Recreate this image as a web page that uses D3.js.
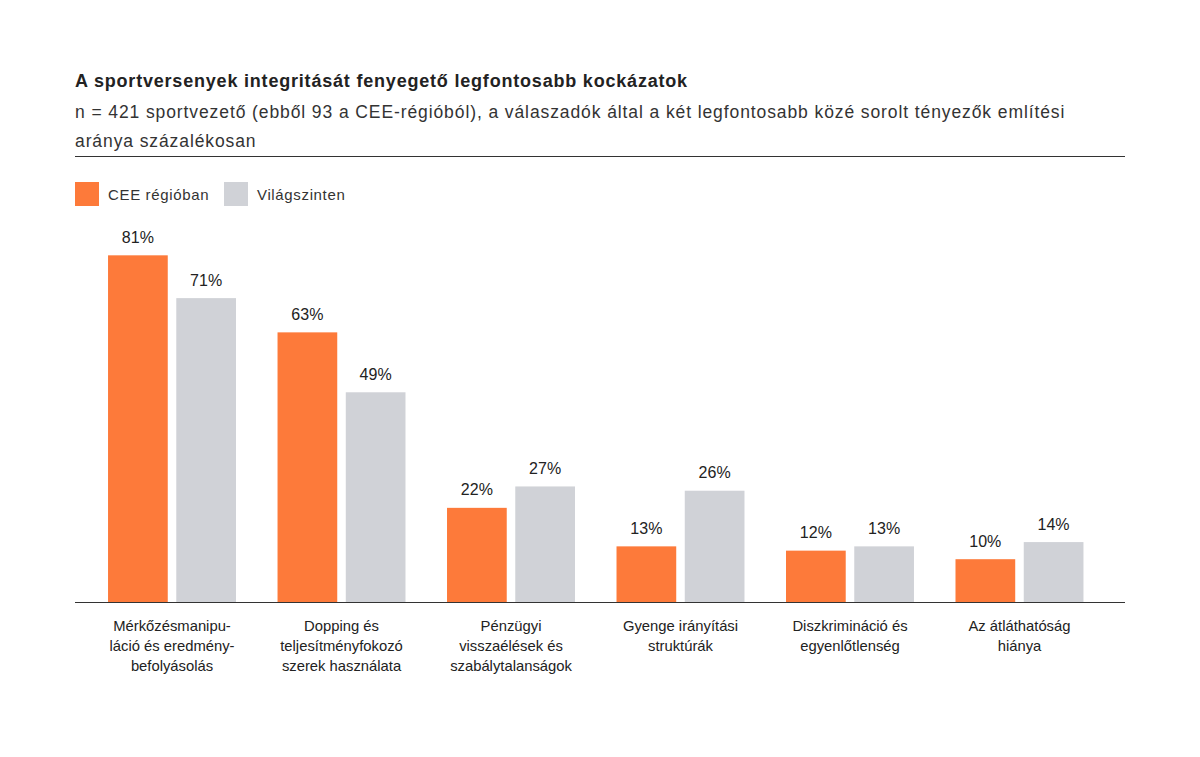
<!DOCTYPE html>
<html>
<head>
<meta charset="utf-8">
<script src="https://cdn.jsdelivr.net/npm/d3@7"></script>
<style>
  body { margin: 0; background: #fff; }
  svg { font-family: "Liberation Sans", Arial, sans-serif; }
</style>
</head>
<body>
<script>
const w = 1200;
const h = 757;

const categories = [
  ['Mérkőzésmanipu-', 'láció és eredmény-', 'befolyásolás'],
  ['Dopping és', 'teljesítményfokozó', 'szerek használata'],
  ['Pénzügyi', 'visszaélések és', 'szabálytalanságok'],
  ['Gyenge irányítási', 'struktúrák'],
  ['Diszkrimináció és', 'egyenlőtlenség'],
  ['Az átláthatóság', 'hiánya']
];
const cee = [81, 63, 22, 13, 12, 10];
const world = [71, 49, 27, 26, 13, 14];
const seriesNames = ['CEE régióban', 'Világszinten'];
const colors = ['#fd7a3a', '#d0d2d7'];

const title = 'A sportversenyek integritását fenyegető legfontosabb kockázatok';
const subtitle = ['n = 421 sportvezető (ebből 93 a CEE-régióból), a válaszadók által a két legfontosabb közé sorolt tényezők említési',
  'aránya százalékosan'];

document.addEventListener('DOMContentLoaded', function(){

  const svg = d3.select('body')
    .append('svg')
    .attr('width', w)
    .attr('height', h)

  // header
  svg.append('text')
    .attr('x', 75).attr('y', 87)
    .attr('font-size', 18).attr('font-weight', 'bold').attr('fill', '#222')
    .attr('letter-spacing', 0.8)
    .text(title)

  svg.selectAll('.sub')
    .data(subtitle)
    .enter()
    .append('text')
    .attr('x', 75)
    .attr('y', (d, i) => 118 + i * 28.5)
    .attr('font-size', 17.5).attr('fill', '#333')
    .attr('letter-spacing', 0.9)
    .text(d => d)

  svg.append('line')
    .attr('x1', 75).attr('x2', 1125).attr('y1', 156.5).attr('y2', 156.5)
    .attr('stroke', '#333').attr('stroke-width', 1.2)

  // legend
  const legend = svg.selectAll('.leg')
    .data(seriesNames)
    .enter()
    .append('g')
    .attr('transform', (d, i) => `translate(${75 + i * 149},182)`)
  legend.append('rect')
    .attr('width', 24).attr('height', 24)
    .attr('fill', (d, i) => colors[i])
  legend.append('text')
    .attr('x', 33).attr('y', 17.5)
    .attr('font-size', 15).attr('fill', '#333')
    .attr('letter-spacing', 0.65)
    .text(d => d)

  // scales
  const idx = d3.range(categories.length);
  const x0 = d3.scaleBand()
    .domain(idx)
    .range([70.75, 1120.75])
    .paddingInner(0.245)
    .paddingOuter(0.22)

  const x1 = d3.scaleBand()
    .domain([0, 1])
    .range([0, x0.bandwidth()])
    .paddingInner(0.125)

  const y = d3.scaleLinear()
    .domain([0, 100])
    .range([602, 174])

  const rows = idx.map(i => [cee[i], world[i]]);

  const groups = svg.selectAll('.grp')
    .data(rows)
    .enter()
    .append('g')
    .attr('transform', (d, i) => `translate(${x0(i)},0)`)

  groups.selectAll('rect')
    .data(d => d)
    .enter()
    .append('rect')
    .attr('x', (d, j) => x1(j))
    .attr('y', d => y(d))
    .attr('width', x1.bandwidth())
    .attr('height', d => y(0) - y(d))
    .attr('fill', (d, j) => colors[j])

  groups.selectAll('.val')
    .data(d => d)
    .enter()
    .append('text')
    .attr('x', (d, j) => x1(j) + x1.bandwidth() / 2)
    .attr('y', d => y(d) - 12.5)
    .attr('text-anchor', 'middle')
    .attr('font-size', 16).attr('fill', '#222')
    .text(d => d + '%')

  // baseline
  svg.append('line')
    .attr('x1', 75).attr('x2', 1125).attr('y1', y(0) + 0.5).attr('y2', y(0) + 0.5)
    .attr('stroke', '#333').attr('stroke-width', 1.2)

  // category labels
  svg.selectAll('.cat')
    .data(categories)
    .enter()
    .append('text')
    .attr('text-anchor', 'middle')
    .attr('font-size', 14.8).attr('fill', '#222')
    .each(function(lines, i){
      d3.select(this).selectAll('tspan')
        .data(lines)
        .enter()
        .append('tspan')
        .attr('x', x0(i) + x0.bandwidth() / 2)
        .attr('y', (l, k) => 631 + k * 19.8)
        .text(l => l)
    })

});
</script>
</body>
</html>
